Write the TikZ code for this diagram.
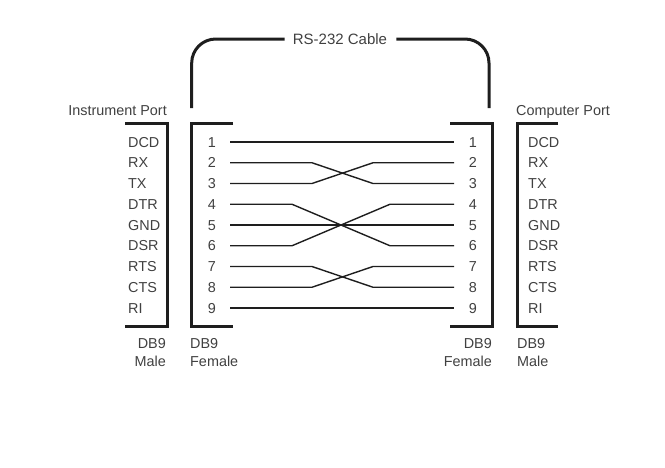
\documentclass[tikz,border=0pt]{standalone}
\usepackage{fontspec}
\setmainfont{Liberation Sans}
\definecolor{txt}{HTML}{404040}
\definecolor{ln}{HTML}{1E1E1E}
\begin{document}
\begin{tikzpicture}[x=1pt,y=-1pt,
 lbl/.style={inner sep=0pt, text height=10.4pt, text depth=0pt, font=\fontsize{14.4}{17}\selectfont, text=txt},
 brk/.style={line width=3pt, draw=ln},
 wire/.style={line width=1.4pt, draw=ln},
 cable/.style={line width=3pt, draw=ln, rounded corners=24pt}]
\useasboundingbox (0,0) rectangle (665,467);
\foreach \i/\s in {1/DCD,2/RX,3/TX,4/DTR,5/GND,6/DSR,7/RTS,8/CTS,9/RI}{
 \pgfmathsetmacro\yy{142+(\i-1)*20.75}
 \node[lbl,anchor=west] (ls\i) at (128,\yy) {\s};
 \node[lbl] (ln\i) at (212,\yy) {\i};
 \node[lbl] (rn\i) at (473,\yy) {\i};
 \node[lbl,anchor=west] (rs\i) at (528,\yy) {\s};
 \coordinate (wl\i) at (230,\yy);
 \coordinate (wr\i) at (454,\yy);
}
% wires
\draw[wire] (wl1) -- (wr1);
\draw[wire] (wl2) -- ++(82,0) -- ([xshift=-81pt]wr3) -- (wr3);
\draw[wire] (wl3) -- ++(82,0) -- ([xshift=-81pt]wr2) -- (wr2);
\draw[wire] (wl4) -- ++(62,0) -- ([xshift=-64pt]wr6) -- (wr6);
\draw[wire] (wl5) -- (wr5);
\draw[wire] (wl6) -- ++(62,0) -- ([xshift=-64pt]wr4) -- (wr4);
\draw[wire] (wl7) -- ++(82,0) -- ([xshift=-81pt]wr8) -- (wr8);
\draw[wire] (wl8) -- ++(82,0) -- ([xshift=-81pt]wr7) -- (wr7);
\draw[wire] (wl9) -- (wr9);
% connector brackets
\draw[brk] (125,123) -- (167,123) -- (167,326) -- (125,326);
\draw[brk] (233,123) -- (191,123) -- (191,326) -- (233,326);
\draw[brk] (450,123) -- (492,123) -- (492,326) -- (450,326);
\draw[brk] (558,123) -- (517,123) -- (517,326) -- (558,326);
% port titles
\node[lbl,anchor=east] (ip) at (167,110) {Instrument Port};
\node[lbl,anchor=west] (cp) at (516,110) {Computer Port};
% DB9 labels
\node[lbl,anchor=east] (lm1) at (166,343) {DB9};
\node[lbl,anchor=east] (lm2) at (166,361) {Male};
\node[lbl,anchor=west] (lf1) at (190,343) {DB9};
\node[lbl,anchor=west] (lf2) at (190,361) {Female};
\node[lbl,anchor=east] (rf1) at (492,343) {DB9};
\node[lbl,anchor=east] (rf2) at (492,361) {Female};
\node[lbl,anchor=west] (rm1) at (517,343) {DB9};
\node[lbl,anchor=west] (rm2) at (517,361) {Male};
% cable
\node[lbl,font=\fontsize{15}{17}\selectfont] (cab) at (340,39) {RS-232 Cable};
\coordinate (cbl) at (191.7,108);
\coordinate (cbr) at (489,108);
\draw[cable] (cbl) -- (191.7,39) -- ([xshift=-8pt]cab.west);
\draw[cable] ([xshift=9pt]cab.east) -- (489,39) -- (cbr);
\end{tikzpicture}
\end{document}
